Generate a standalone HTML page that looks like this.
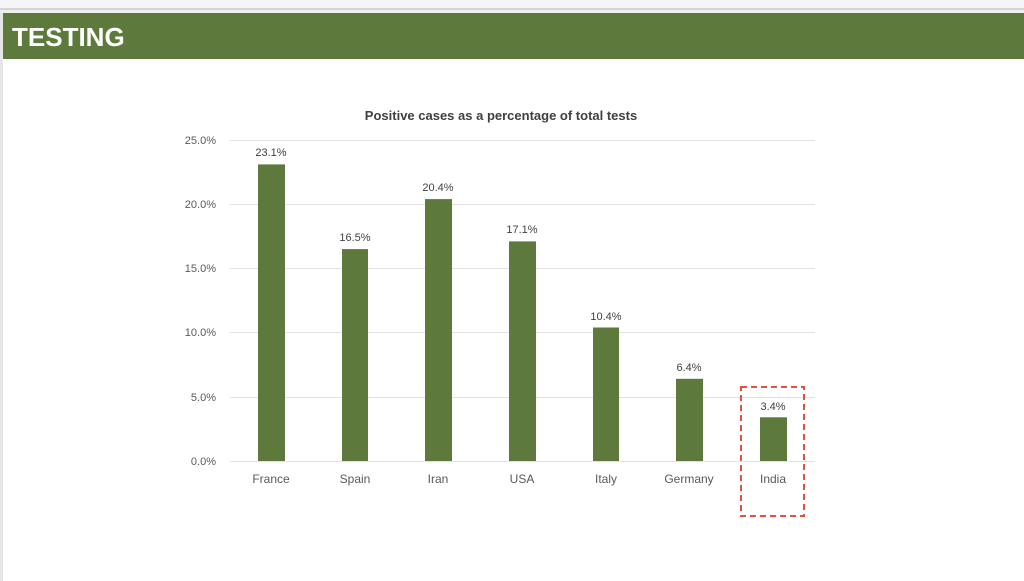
<!DOCTYPE html>
<html><head><meta charset="utf-8"><style>
html,body{margin:0;padding:0;background:#fff;}
body{width:1024px;height:581px;overflow:hidden;position:relative;font-family:"Liberation Sans",sans-serif;}
</style></head><body>
<svg width="1024" height="581" xmlns="http://www.w3.org/2000/svg" style="position:absolute;left:0;top:0">
<rect x="0" y="0" width="1024" height="8" fill="#f5f4f8"/>
<rect x="0" y="8" width="1024" height="2" fill="#d4d4d0"/>
<rect x="0" y="10" width="1024" height="3" fill="#eeeeee"/>
<rect x="0" y="13" width="3" height="568" fill="#e6e6e6"/>
<rect x="3" y="13" width="1021" height="46" fill="#5d7a3c"/>
<text x="12" y="46" font-size="26" font-weight="bold" fill="#fff" font-family="Liberation Sans, sans-serif">TESTING</text>
<text x="501" y="120" font-size="13" font-weight="bold" fill="#404040" text-anchor="middle">Positive cases as a percentage of total tests</text>
<g stroke="#e2e2e2" stroke-width="1">
<line x1="230" x2="815" y1="140.5" y2="140.5"/>
<line x1="230" x2="815" y1="204.5" y2="204.5"/>
<line x1="230" x2="815" y1="268.5" y2="268.5"/>
<line x1="230" x2="815" y1="332.5" y2="332.5"/>
<line x1="230" x2="815" y1="397.5" y2="397.5"/>
<line x1="230" x2="815" y1="461.5" y2="461.5"/>
</g>
<g font-size="11" fill="#595959" text-anchor="end">
<text x="216" y="144">25.0%</text>
<text x="216" y="208">20.0%</text>
<text x="216" y="272">15.0%</text>
<text x="216" y="336">10.0%</text>
<text x="216" y="401">5.0%</text>
<text x="216" y="465">0.0%</text>
</g>
<g fill="#5d7a3c">
<rect x="258" y="164.4" width="27" height="296.6"/>
<rect x="342" y="249.1" width="26" height="211.9"/>
<rect x="425" y="199.1" width="27" height="261.9"/>
<rect x="509" y="241.4" width="27" height="219.6"/>
<rect x="593" y="327.5" width="26" height="133.5"/>
<rect x="676" y="378.8" width="27" height="82.2"/>
<rect x="760" y="417.3" width="27" height="43.7"/>
</g>
<g font-size="11" fill="#404040" text-anchor="middle">
<text x="271" y="156">23.1%</text>
<text x="355" y="241">16.5%</text>
<text x="438" y="191">20.4%</text>
<text x="522" y="233">17.1%</text>
<text x="606" y="320">10.4%</text>
<text x="689" y="371">6.4%</text>
<text x="773" y="410">3.4%</text>
</g>
<g font-size="12" fill="#595959" text-anchor="middle">
<text x="271" y="483">France</text>
<text x="355" y="483">Spain</text>
<text x="438" y="483">Iran</text>
<text x="522" y="483">USA</text>
<text x="606" y="483">Italy</text>
<text x="689" y="483">Germany</text>
<text x="773" y="483">India</text>
</g>
<rect x="741" y="387" width="63" height="129" fill="none" stroke="#e0533f" stroke-width="2" stroke-dasharray="6,4"/>
</svg>
</body></html>
